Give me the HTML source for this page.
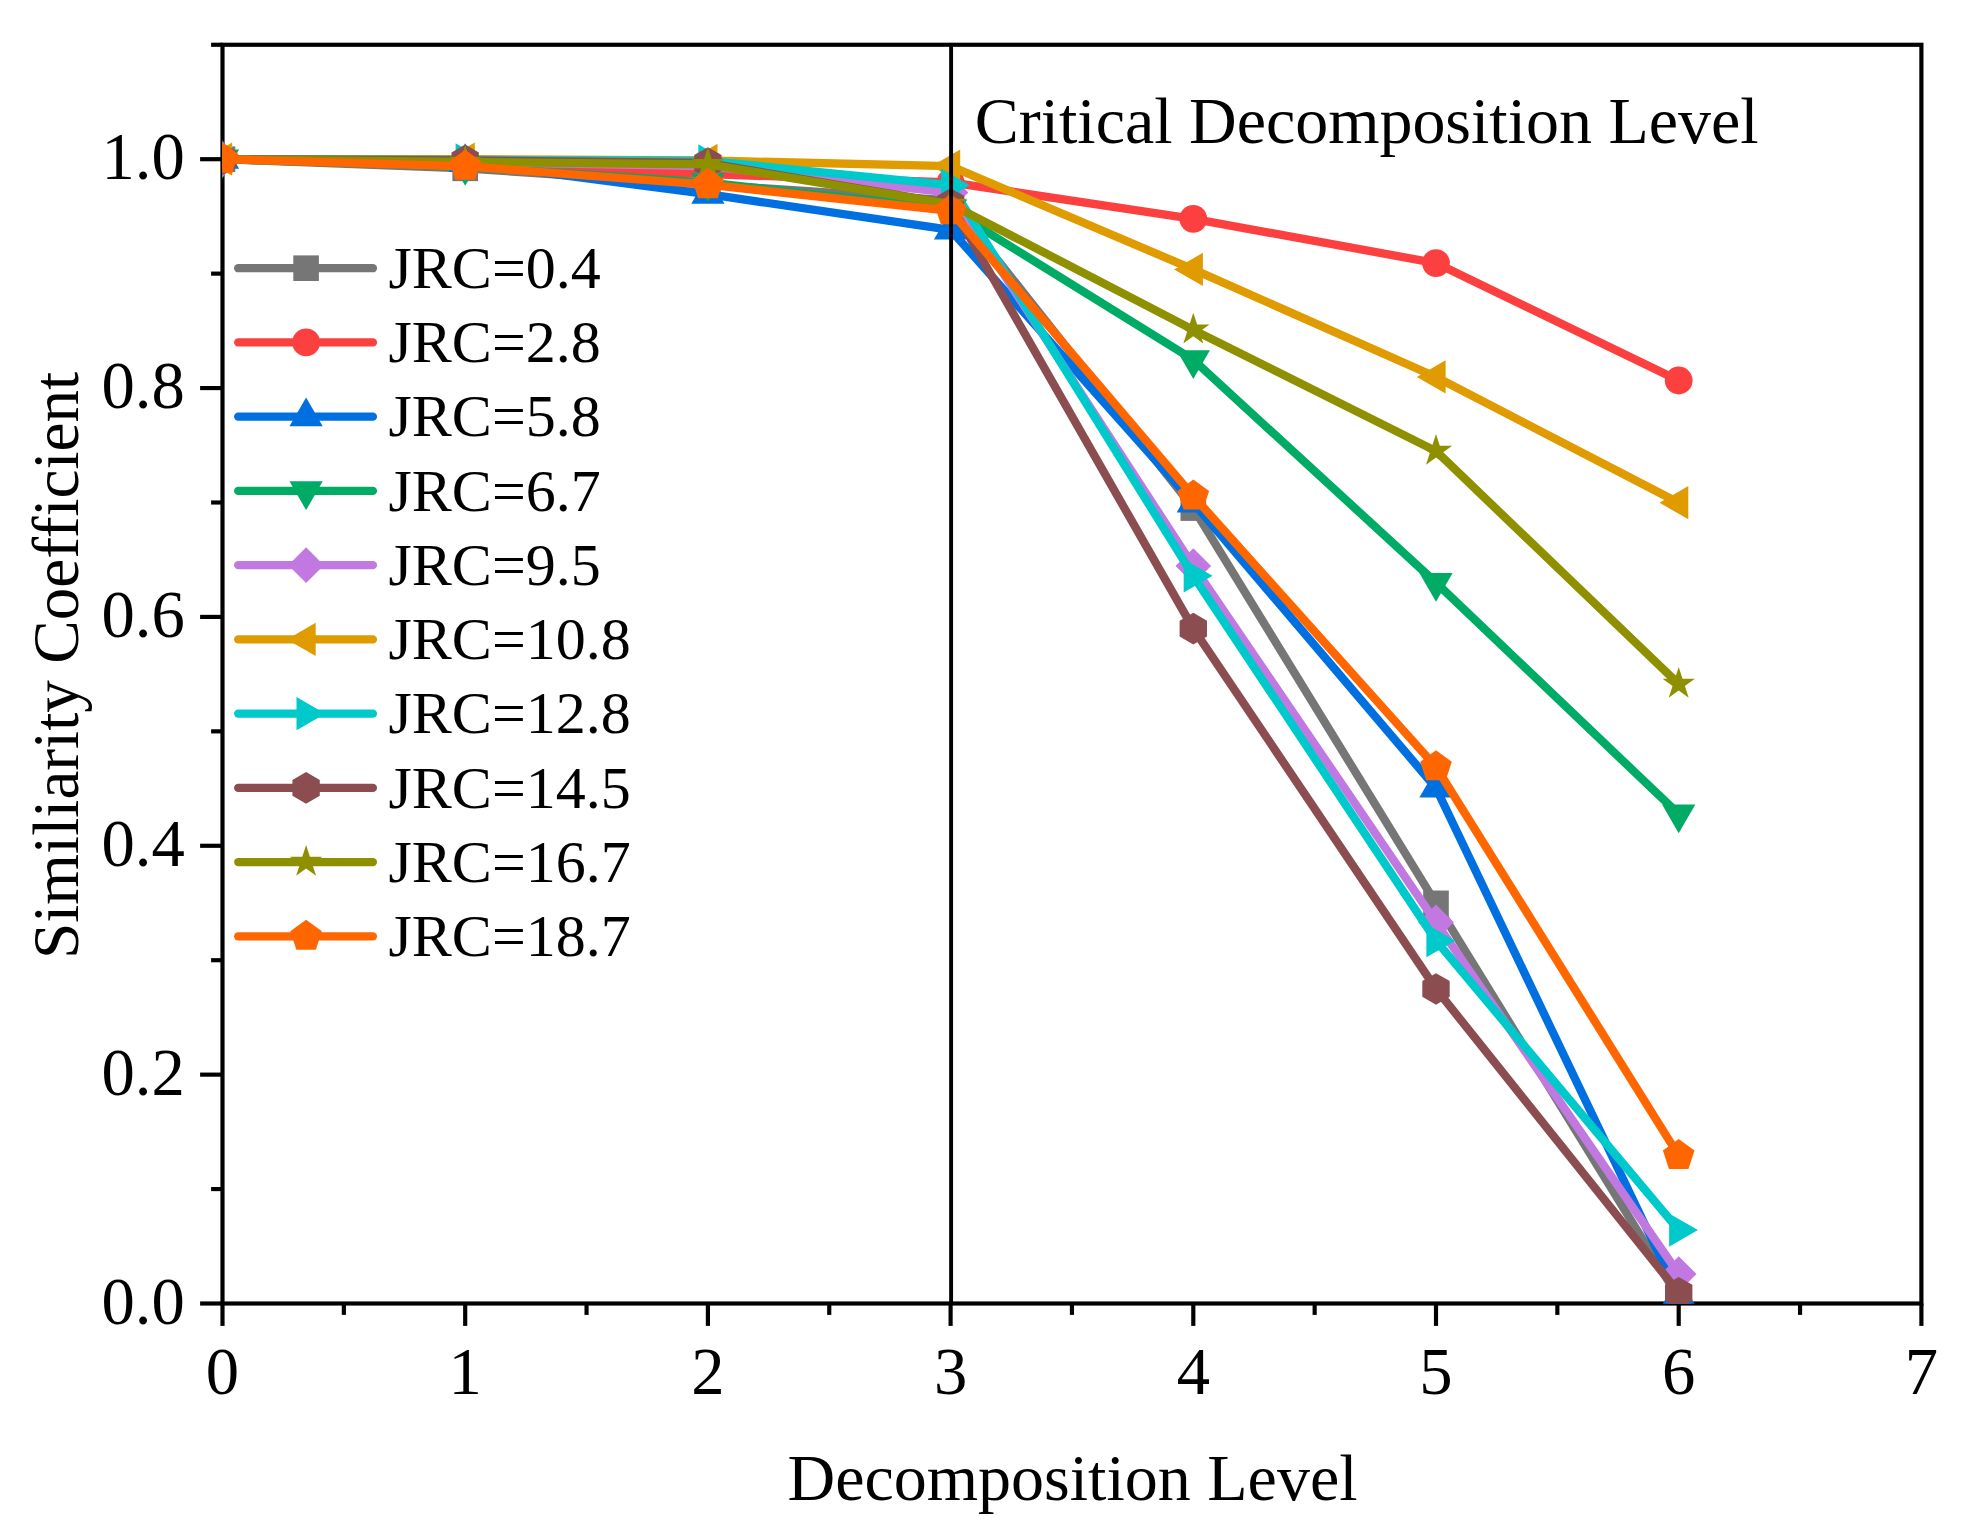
<!DOCTYPE html><html><head><meta charset="utf-8"><title>Similarity Coefficient vs Decomposition Level</title>
<style>html,body{margin:0;padding:0;background:#fff}svg{display:block}text{font-family:"Liberation Serif","Times New Roman",serif;fill:#000}</style></head><body>
<svg xmlns="http://www.w3.org/2000/svg" width="1968" height="1532" viewBox="0 0 1968 1532">
<rect width="1968" height="1532" fill="#fff"/>
<defs><clipPath id="c"><rect x="222.2" y="44.77" width="1699.5" height="1259.03"/></clipPath></defs>
<g stroke="#000" stroke-width="4.17" fill="none" stroke-linecap="butt">
<rect x="222.5" y="44.77" width="1698.9" height="1258.73"/>
<line x1="222.5" y1="1303.5" x2="222.5" y2="1325.9"/>
<line x1="343.85" y1="1303.5" x2="343.85" y2="1314.9"/>
<line x1="465.2" y1="1303.5" x2="465.2" y2="1325.9"/>
<line x1="586.55" y1="1303.5" x2="586.55" y2="1314.9"/>
<line x1="707.9" y1="1303.5" x2="707.9" y2="1325.9"/>
<line x1="829.25" y1="1303.5" x2="829.25" y2="1314.9"/>
<line x1="950.6" y1="1303.5" x2="950.6" y2="1325.9"/>
<line x1="1071.95" y1="1303.5" x2="1071.95" y2="1314.9"/>
<line x1="1193.3" y1="1303.5" x2="1193.3" y2="1325.9"/>
<line x1="1314.65" y1="1303.5" x2="1314.65" y2="1314.9"/>
<line x1="1436" y1="1303.5" x2="1436" y2="1325.9"/>
<line x1="1557.35" y1="1303.5" x2="1557.35" y2="1314.9"/>
<line x1="1678.7" y1="1303.5" x2="1678.7" y2="1325.9"/>
<line x1="1800.05" y1="1303.5" x2="1800.05" y2="1314.9"/>
<line x1="1921.4" y1="1303.5" x2="1921.4" y2="1325.9"/>
<line x1="222.5" y1="1303.5" x2="200.1" y2="1303.5"/>
<line x1="222.5" y1="1189.07" x2="211.1" y2="1189.07"/>
<line x1="222.5" y1="1074.64" x2="200.1" y2="1074.64"/>
<line x1="222.5" y1="960.21" x2="211.1" y2="960.21"/>
<line x1="222.5" y1="845.78" x2="200.1" y2="845.78"/>
<line x1="222.5" y1="731.35" x2="211.1" y2="731.35"/>
<line x1="222.5" y1="616.92" x2="200.1" y2="616.92"/>
<line x1="222.5" y1="502.49" x2="211.1" y2="502.49"/>
<line x1="222.5" y1="388.06" x2="200.1" y2="388.06"/>
<line x1="222.5" y1="273.63" x2="211.1" y2="273.63"/>
<line x1="222.5" y1="159.2" x2="200.1" y2="159.2"/>
<line x1="222.5" y1="44.77" x2="211.1" y2="44.77"/>
</g>
<g clip-path="url(#c)">
<polyline points="222.5,159.2 465.2,168.35 707.9,184.72 950.6,200.39 1193.3,508.1 1436,903.34 1678.7,1297.78" fill="none" stroke="#767676" stroke-width="8.3" stroke-linejoin="round" stroke-linecap="butt"/>
<rect x="209.7" y="146.4" width="25.6" height="25.6" fill="#767676"/>
<rect x="452.4" y="155.55" width="25.6" height="25.6" fill="#767676"/>
<rect x="695.1" y="171.92" width="25.6" height="25.6" fill="#767676"/>
<rect x="937.8" y="187.59" width="25.6" height="25.6" fill="#767676"/>
<rect x="1180.5" y="495.3" width="25.6" height="25.6" fill="#767676"/>
<rect x="1423.2" y="890.54" width="25.6" height="25.6" fill="#767676"/>
<rect x="1665.9" y="1284.98" width="25.6" height="25.6" fill="#767676"/>
<polyline points="222.5,159.2 465.2,166.29 707.9,174.08 950.6,182.43 1193.3,218.82 1436,263.1 1678.7,380.51" fill="none" stroke="#FC4040" stroke-width="8.3" stroke-linejoin="round" stroke-linecap="butt"/>
<circle cx="222.5" cy="159.2" r="13.9" fill="#FC4040"/>
<circle cx="465.2" cy="166.29" r="13.9" fill="#FC4040"/>
<circle cx="707.9" cy="174.08" r="13.9" fill="#FC4040"/>
<circle cx="950.6" cy="182.43" r="13.9" fill="#FC4040"/>
<circle cx="1193.3" cy="218.82" r="13.9" fill="#FC4040"/>
<circle cx="1436" cy="263.1" r="13.9" fill="#FC4040"/>
<circle cx="1678.7" cy="380.51" r="13.9" fill="#FC4040"/>
<polyline points="222.5,159.2 465.2,162.4 707.9,194.22 950.6,229.92 1193.3,502.83 1436,787.99 1678.7,1295.38" fill="none" stroke="#0070E0" stroke-width="8.3" stroke-linejoin="round" stroke-linecap="butt"/>
<polygon points="222.5,140 239.13,168.8 205.87,168.8" fill="#0070E0"/>
<polygon points="465.2,143.2 481.83,172 448.57,172" fill="#0070E0"/>
<polygon points="707.9,175.02 724.53,203.82 691.27,203.82" fill="#0070E0"/>
<polygon points="950.6,210.72 967.23,239.52 933.97,239.52" fill="#0070E0"/>
<polygon points="1193.3,483.63 1209.93,512.43 1176.67,512.43" fill="#0070E0"/>
<polygon points="1436,768.79 1452.63,797.59 1419.37,797.59" fill="#0070E0"/>
<polygon points="1678.7,1276.18 1695.33,1304.98 1662.07,1304.98" fill="#0070E0"/>
<polyline points="222.5,159.2 465.2,166.64 707.9,182.66 950.6,209.21 1193.3,359.8 1436,582.59 1678.7,814.08" fill="none" stroke="#00AB66" stroke-width="8.3" stroke-linejoin="round" stroke-linecap="butt"/>
<polygon points="222.5,178.4 205.87,149.6 239.13,149.6" fill="#00AB66"/>
<polygon points="465.2,185.84 448.57,157.04 481.83,157.04" fill="#00AB66"/>
<polygon points="707.9,201.86 691.27,173.06 724.53,173.06" fill="#00AB66"/>
<polygon points="950.6,228.41 933.97,199.61 967.23,199.61" fill="#00AB66"/>
<polygon points="1193.3,379 1176.67,350.2 1209.93,350.2" fill="#00AB66"/>
<polygon points="1436,601.79 1419.37,572.99 1452.63,572.99" fill="#00AB66"/>
<polygon points="1678.7,833.28 1662.07,804.48 1695.33,804.48" fill="#00AB66"/>
<polyline points="222.5,159.2 465.2,161.95 707.9,166.07 950.6,192.61 1193.3,566 1436,922.33 1678.7,1273.98" fill="none" stroke="#C179E1" stroke-width="8.3" stroke-linejoin="round" stroke-linecap="butt"/>
<polygon points="222.5,141.4 240.3,159.2 222.5,177 204.7,159.2" fill="#C179E1"/>
<polygon points="465.2,144.15 483,161.95 465.2,179.75 447.4,161.95" fill="#C179E1"/>
<polygon points="707.9,148.27 725.7,166.07 707.9,183.87 690.1,166.07" fill="#C179E1"/>
<polygon points="950.6,174.81 968.4,192.61 950.6,210.41 932.8,192.61" fill="#C179E1"/>
<polygon points="1193.3,548.2 1211.1,566 1193.3,583.8 1175.5,566" fill="#C179E1"/>
<polygon points="1436,904.53 1453.8,922.33 1436,940.13 1418.2,922.33" fill="#C179E1"/>
<polygon points="1678.7,1256.18 1696.5,1273.98 1678.7,1291.78 1660.9,1273.98" fill="#C179E1"/>
<polyline points="222.5,159.2 465.2,159.2 707.9,160.46 950.6,166.18 1193.3,269.4 1436,376.96 1678.7,502.72" fill="none" stroke="#DF9B00" stroke-width="8.3" stroke-linejoin="round" stroke-linecap="butt"/>
<polygon points="203.3,159.2 232.1,142.57 232.1,175.83" fill="#DF9B00"/>
<polygon points="446,159.2 474.8,142.57 474.8,175.83" fill="#DF9B00"/>
<polygon points="688.7,160.46 717.5,143.83 717.5,177.09" fill="#DF9B00"/>
<polygon points="931.4,166.18 960.2,149.55 960.2,182.81" fill="#DF9B00"/>
<polygon points="1174.1,269.4 1202.9,252.77 1202.9,286.02" fill="#DF9B00"/>
<polygon points="1416.8,376.96 1445.6,360.33 1445.6,393.59" fill="#DF9B00"/>
<polygon points="1659.5,502.72 1688.3,486.09 1688.3,519.35" fill="#DF9B00"/>
<polyline points="222.5,159.2 465.2,160 707.9,160.92 950.6,185.18 1193.3,575.84 1436,940.64 1678.7,1230.04" fill="none" stroke="#00C9CC" stroke-width="8.3" stroke-linejoin="round" stroke-linecap="butt"/>
<polygon points="241.7,159.2 212.9,175.83 212.9,142.57" fill="#00C9CC"/>
<polygon points="484.4,160 455.6,176.63 455.6,143.37" fill="#00C9CC"/>
<polygon points="727.1,160.92 698.3,177.54 698.3,144.29" fill="#00C9CC"/>
<polygon points="969.8,185.18 941,201.8 941,168.55" fill="#00C9CC"/>
<polygon points="1212.5,575.84 1183.7,592.47 1183.7,559.21" fill="#00C9CC"/>
<polygon points="1455.2,940.64 1426.4,957.27 1426.4,924.01" fill="#00C9CC"/>
<polygon points="1697.9,1230.04 1669.1,1246.66 1669.1,1213.41" fill="#00C9CC"/>
<polyline points="222.5,159.2 465.2,160.34 707.9,162.98 950.6,203.94 1193.3,628.59 1436,988.93 1678.7,1292.74" fill="none" stroke="#8B4D4F" stroke-width="8.3" stroke-linejoin="round" stroke-linecap="butt"/>
<polygon points="222.5,143.4 236.18,151.3 236.18,167.1 222.5,175 208.82,167.1 208.82,151.3" fill="#8B4D4F"/>
<polygon points="465.2,144.54 478.88,152.44 478.88,168.24 465.2,176.14 451.52,168.24 451.52,152.44" fill="#8B4D4F"/>
<polygon points="707.9,147.18 721.58,155.08 721.58,170.88 707.9,178.78 694.22,170.88 694.22,155.08" fill="#8B4D4F"/>
<polygon points="950.6,188.14 964.28,196.04 964.28,211.84 950.6,219.74 936.92,211.84 936.92,196.04" fill="#8B4D4F"/>
<polygon points="1193.3,612.79 1206.98,620.69 1206.98,636.49 1193.3,644.39 1179.62,636.49 1179.62,620.69" fill="#8B4D4F"/>
<polygon points="1436,973.13 1449.68,981.03 1449.68,996.83 1436,1004.73 1422.32,996.83 1422.32,981.03" fill="#8B4D4F"/>
<polygon points="1678.7,1276.94 1692.38,1284.84 1692.38,1300.64 1678.7,1308.54 1665.02,1300.64 1665.02,1284.84" fill="#8B4D4F"/>
<polyline points="222.5,159.2 465.2,161.95 707.9,164.35 950.6,204.06 1193.3,329.82 1436,451.11 1678.7,684.09" fill="none" stroke="#8F9000" stroke-width="8.3" stroke-linejoin="round" stroke-linecap="butt"/>
<polygon points="222.5,142.2 226.32,153.95 238.67,153.95 228.68,161.21 232.49,172.95 222.5,165.69 212.51,172.95 216.32,161.21 206.33,153.95 218.68,153.95" fill="#8F9000"/>
<polygon points="465.2,144.95 469.02,156.69 481.37,156.69 471.38,163.95 475.19,175.7 465.2,168.44 455.21,175.7 459.02,163.95 449.03,156.69 461.38,156.69" fill="#8F9000"/>
<polygon points="707.9,147.35 711.72,159.1 724.07,159.1 714.08,166.36 717.89,178.1 707.9,170.84 697.91,178.1 701.72,166.36 691.73,159.1 704.08,159.1" fill="#8F9000"/>
<polygon points="950.6,187.06 954.42,198.8 966.77,198.8 956.78,206.06 960.59,217.81 950.6,210.55 940.61,217.81 944.42,206.06 934.43,198.8 946.78,198.8" fill="#8F9000"/>
<polygon points="1193.3,312.82 1197.12,324.56 1209.47,324.56 1199.48,331.82 1203.29,343.57 1193.3,336.31 1183.31,343.57 1187.12,331.82 1177.13,324.56 1189.48,324.56" fill="#8F9000"/>
<polygon points="1436,434.11 1439.82,445.86 1452.17,445.86 1442.18,453.12 1445.99,464.86 1436,457.6 1426.01,464.86 1429.82,453.12 1419.83,445.86 1432.18,445.86" fill="#8F9000"/>
<polygon points="1678.7,667.09 1682.52,678.84 1694.87,678.84 1684.88,686.1 1688.69,697.84 1678.7,690.58 1668.71,697.84 1672.52,686.1 1662.53,678.84 1674.88,678.84" fill="#8F9000"/>
<polyline points="222.5,159.2 465.2,166.29 707.9,184.72 950.6,210.81 1193.3,496.08 1436,766.94 1678.7,1155.66" fill="none" stroke="#FF6600" stroke-width="8.3" stroke-linejoin="round" stroke-linecap="butt"/>
<polygon points="222.5,142.6 238.29,154.07 232.26,172.63 212.74,172.63 206.71,154.07" fill="#FF6600"/>
<polygon points="465.2,149.69 480.99,161.16 474.96,179.72 455.44,179.72 449.41,161.16" fill="#FF6600"/>
<polygon points="707.9,168.12 723.69,179.59 717.66,198.15 698.14,198.15 692.11,179.59" fill="#FF6600"/>
<polygon points="950.6,194.21 966.39,205.68 960.36,224.24 940.84,224.24 934.81,205.68" fill="#FF6600"/>
<polygon points="1193.3,479.48 1209.09,490.95 1203.06,509.51 1183.54,509.51 1177.51,490.95" fill="#FF6600"/>
<polygon points="1436,750.34 1451.79,761.81 1445.76,780.37 1426.24,780.37 1420.21,761.81" fill="#FF6600"/>
<polygon points="1678.7,1139.06 1694.49,1150.53 1688.46,1169.09 1668.94,1169.09 1662.91,1150.53" fill="#FF6600"/>
</g>
<line x1="951.1" y1="44.77" x2="951.1" y2="1303.5" stroke="#000" stroke-width="3.9"/>
<g font-size="66.67">
<text x="222.5" y="1393.5" text-anchor="middle">0</text>
<text x="465.2" y="1393.5" text-anchor="middle">1</text>
<text x="707.9" y="1393.5" text-anchor="middle">2</text>
<text x="950.6" y="1393.5" text-anchor="middle">3</text>
<text x="1193.3" y="1393.5" text-anchor="middle">4</text>
<text x="1436" y="1393.5" text-anchor="middle">5</text>
<text x="1678.7" y="1393.5" text-anchor="middle">6</text>
<text x="1921.4" y="1393.5" text-anchor="middle">7</text>
<text x="184.8" y="1323.5" text-anchor="end">0.0</text>
<text x="184.8" y="1094.64" text-anchor="end">0.2</text>
<text x="184.8" y="865.78" text-anchor="end">0.4</text>
<text x="184.8" y="636.92" text-anchor="end">0.6</text>
<text x="184.8" y="408.06" text-anchor="end">0.8</text>
<text x="184.8" y="179.2" text-anchor="end">1.0</text>
<text x="974.8" y="143.2" font-size="65.95">Critical Decomposition Level</text>
<text x="1072.5" y="1500.3" text-anchor="middle" font-size="66">Decomposition Level</text>
<text transform="translate(77.6 665.4) rotate(-90)" text-anchor="middle" font-size="65.2">Similiarity Coefficient</text>
</g>
<g font-size="60">
<line x1="238.2" y1="268.2" x2="372.9" y2="268.2" stroke="#767676" stroke-width="8.3" stroke-linecap="round"/>
<rect x="293.3" y="255.4" width="25.6" height="25.6" fill="#767676"/>
<text x="388.5" y="288">JRC=0.4</text>
<line x1="238.2" y1="342.44" x2="372.9" y2="342.44" stroke="#FC4040" stroke-width="8.3" stroke-linecap="round"/>
<circle cx="306.1" cy="342.44" r="13.9" fill="#FC4040"/>
<text x="388.5" y="362.24">JRC=2.8</text>
<line x1="238.2" y1="416.68" x2="372.9" y2="416.68" stroke="#0070E0" stroke-width="8.3" stroke-linecap="round"/>
<polygon points="306.1,397.48 322.73,426.28 289.47,426.28" fill="#0070E0"/>
<text x="388.5" y="436.48">JRC=5.8</text>
<line x1="238.2" y1="490.92" x2="372.9" y2="490.92" stroke="#00AB66" stroke-width="8.3" stroke-linecap="round"/>
<polygon points="306.1,510.12 289.47,481.32 322.73,481.32" fill="#00AB66"/>
<text x="388.5" y="510.72">JRC=6.7</text>
<line x1="238.2" y1="565.16" x2="372.9" y2="565.16" stroke="#C179E1" stroke-width="8.3" stroke-linecap="round"/>
<polygon points="306.1,547.36 323.9,565.16 306.1,582.96 288.3,565.16" fill="#C179E1"/>
<text x="388.5" y="584.96">JRC=9.5</text>
<line x1="238.2" y1="639.4" x2="372.9" y2="639.4" stroke="#DF9B00" stroke-width="8.3" stroke-linecap="round"/>
<polygon points="286.9,639.4 315.7,622.77 315.7,656.03" fill="#DF9B00"/>
<text x="388.5" y="659.2">JRC=10.8</text>
<line x1="238.2" y1="713.64" x2="372.9" y2="713.64" stroke="#00C9CC" stroke-width="8.3" stroke-linecap="round"/>
<polygon points="325.3,713.64 296.5,730.27 296.5,697.01" fill="#00C9CC"/>
<text x="388.5" y="733.44">JRC=12.8</text>
<line x1="238.2" y1="787.88" x2="372.9" y2="787.88" stroke="#8B4D4F" stroke-width="8.3" stroke-linecap="round"/>
<polygon points="306.1,772.08 319.78,779.98 319.78,795.78 306.1,803.68 292.42,795.78 292.42,779.98" fill="#8B4D4F"/>
<text x="388.5" y="807.68">JRC=14.5</text>
<line x1="238.2" y1="862.12" x2="372.9" y2="862.12" stroke="#8F9000" stroke-width="8.3" stroke-linecap="round"/>
<polygon points="306.1,845.12 309.92,856.87 322.27,856.87 312.28,864.13 316.09,875.87 306.1,868.61 296.11,875.87 299.92,864.13 289.93,856.87 302.28,856.87" fill="#8F9000"/>
<text x="388.5" y="881.92">JRC=16.7</text>
<line x1="238.2" y1="936.36" x2="372.9" y2="936.36" stroke="#FF6600" stroke-width="8.3" stroke-linecap="round"/>
<polygon points="306.1,919.76 321.89,931.23 315.86,949.79 296.34,949.79 290.31,931.23" fill="#FF6600"/>
<text x="388.5" y="956.16">JRC=18.7</text>
</g>
</svg></body></html>
